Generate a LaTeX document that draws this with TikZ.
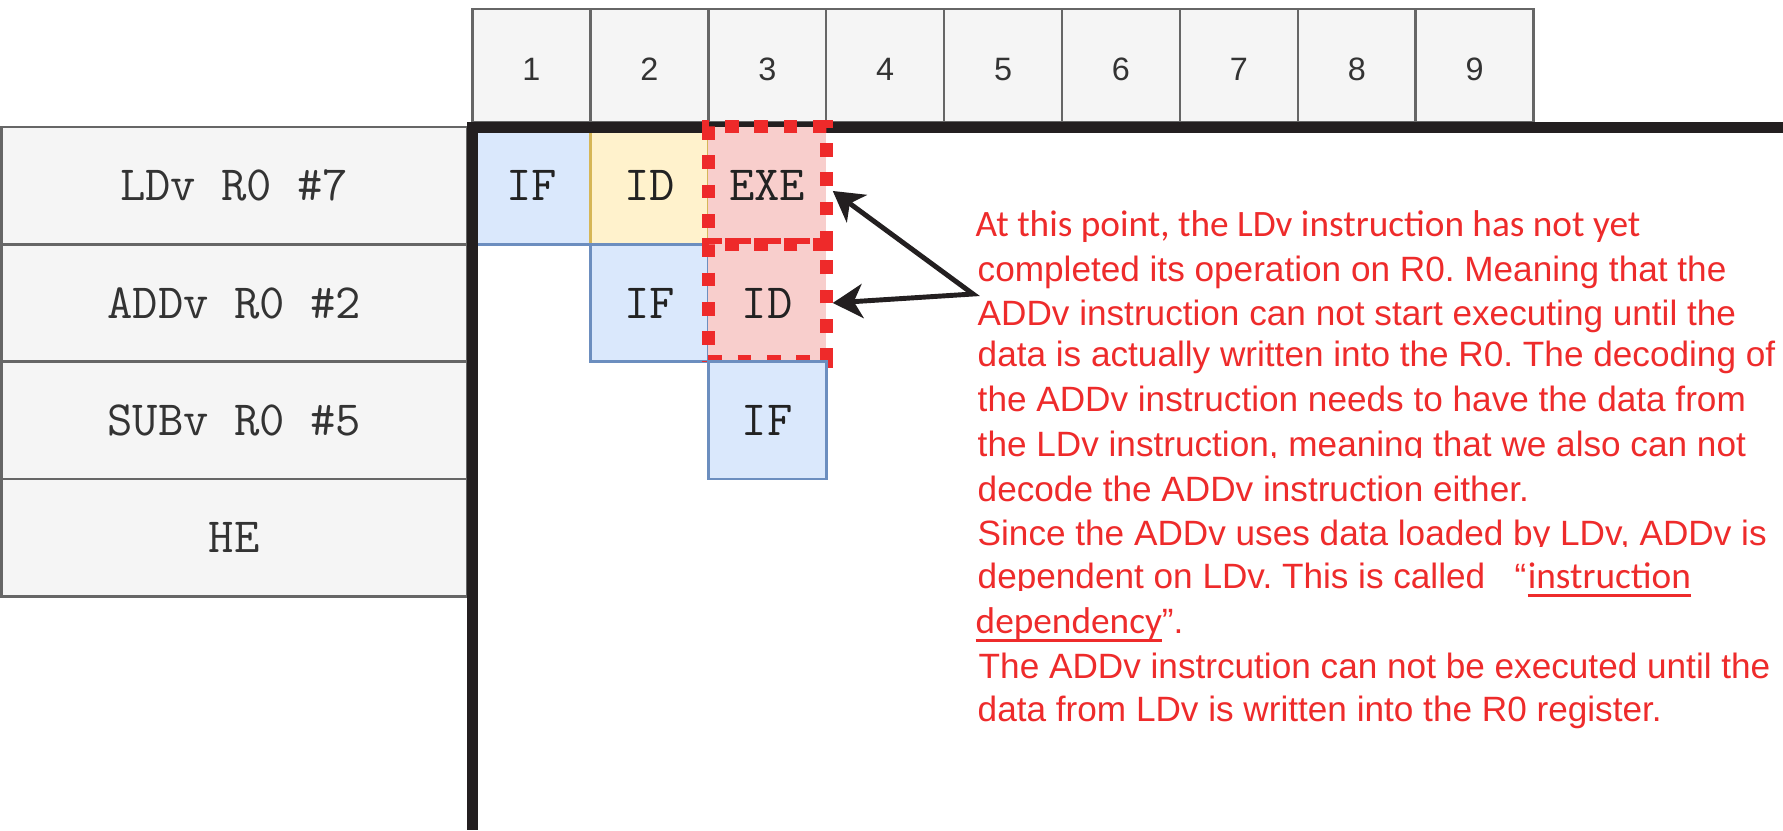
\documentclass[tikz,border=0pt]{standalone}
\usepackage{fontspec}
\setmainfont{Liberation Sans}
\newfontfamily\calib{Carlito}
\usetikzlibrary{arrows.meta,calc}
\frenchspacing

\definecolor{boxfill}{HTML}{F5F5F5}
\definecolor{boxline}{HTML}{666666}
\definecolor{labeltext}{HTML}{333333}
\definecolor{stagetext}{HTML}{222222}
\definecolor{fetchfill}{HTML}{DAE8FC}
\definecolor{fetchline}{HTML}{6C8EBF}
\definecolor{decodefill}{HTML}{FFF2CC}
\definecolor{decodeline}{HTML}{D6B656}
\definecolor{stallfill}{HTML}{F8CECC}
\definecolor{stallline}{HTML}{EE2A2A}
\definecolor{axisblack}{HTML}{231F20}
\definecolor{notered}{HTML}{EE2B2B}

% underline drawn as a rule just below the baseline
\newcommand\undl[1]{\setbox0\hbox{#1}\rlap{\rule[-2.4pt]{\wd0}{0.85pt}}\box0}

\begin{document}
\begin{tikzpicture}[x=0.01cm,y=-0.01cm,
  hdr/.style={draw=boxline, fill=boxfill, line width=0.7pt, inner sep=0pt,
    minimum width=1.179cm, minimum height=1.13cm, text=labeltext,
    text height=0.29cm, text depth=0pt,
    font=\fontsize{9.2}{11}\selectfont},
  instr/.style={draw=boxline, fill=boxfill, line width=0.75pt, inner sep=0pt,
    minimum width=4.655cm, minimum height=1.173cm, text=labeltext,
    font=\ttfamily\fontsize{14}{16}\selectfont},
  cell/.style={line width=0.75pt, inner sep=0pt, minimum width=1.179cm,
    minimum height=1.173cm, text=stagetext,
    font=\ttfamily\fontsize{14}{16}\selectfont},
  fetch/.style={cell, draw=fetchline, fill=fetchfill},
  decode/.style={cell, draw=decodeline, fill=decodefill},
  stall/.style={cell, draw=stallline, fill=stallfill, line width=3.7pt,
    dash pattern=on 3.9pt off 4.45pt},
  note/.style={anchor=base west, inner sep=0pt, text=notered,
    font=\fontsize{10}{12}\selectfont},
  ptr/.style={draw=axisblack, line width=1.4pt,
    {Stealth[length=8.5pt,width=9.7pt,inset=2.5pt]}-{Stealth[length=8.5pt,width=9.7pt,inset=2.5pt]}}
]
\useasboundingbox (0,0) rectangle (1783,830);
\fill[white] (0,0) rectangle (1783,830);

% clock-cycle header
\foreach \k in {1,...,9}
  \node[hdr] (c\k) at ({472.5+117.9*(\k-0.5)},65.5) {\k};

% instruction column
\foreach \t [count=\r] in {LDv R0 \#7, ADDv R0 \#2, SUBv R0 \#5, HE}
  \node[instr] (i\r) at (234.25,{127+117.3*(\r-0.5)}) {\t};

% pipeline stages
\node[fetch]  (s11) at (531.45,185.65) {IF};
\node[decode] (s12) at (649.35,185.65) {ID};
\node[fetch]  (s22) at (649.35,302.95) {IF};

% axes
\draw[axisblack, line width=3.13pt] (1783,127.5) -- (472.5,127.5) -- (472.5,830);

% stalled stages
\node[stall] (s13) at (767.25,185.65) {EXE};
\node[stall] (s23) at (767.25,302.95) {ID};
\node[fetch] (s33) at (767.25,420.25) {IF};

% pointers from the note
\coordinate (src) at (973,294);
\draw[ptr] ([yshift=-0.053cm]s13.east) -- (src) -- (s23.east);

% explanation
\node[note, font=\calib\fontsize{10.6}{12}\selectfont] (n1) at (975,236.7)
  {At this point, the LDv instruction has not yet};
\node[note] (n2) at (977,281.7) {completed its operation on R0. Meaning that the};
\node[note] (n3) at (977,325) {ADDv instruction can not start executing until the};
\node[note] (n4) at (977,366.7) {data is actually written into the R0. The decoding of};
\node[note] (n5) at (977,411.7) {the ADDv instruction needs to have the data from};
\begin{scope}
  \clip (960,400) rectangle (1783,457);
  \node[note] (n6) at (977,456) {the LDv instruction, meaning that we also can not};
\end{scope}
\node[note] (n7) at (977,501.7) {decode the ADDv instruction either.};
\begin{scope}
  \clip (960,500) rectangle (1783,546);
  \node[note] (n8) at (977,545) {Since the ADDv uses data loaded by LDv, ADDv is};
\end{scope}
\begin{scope}
  \clip (960,540) rectangle (1783,590);
  \node[note] (n9) at (977,588.3) {dependent on LDv. This is called\ \ \ “};
\end{scope}
\node[note, font=\calib\fontsize{10.6}{12}\selectfont] (n9b) at (n9.base east)
  {\undl{instruction}};
\node[note] (n10) at (975,633.3)
  {{\calib\fontsize{10.6}{12}\selectfont\undl{dependency}}”.};
\node[note] (n11) at (978,678.3) {The ADDv instrcution can not be executed until the};
\node[note] (n12) at (977,721.7) {data from LDv is written into the R0 register.};
\end{tikzpicture}
\end{document}
